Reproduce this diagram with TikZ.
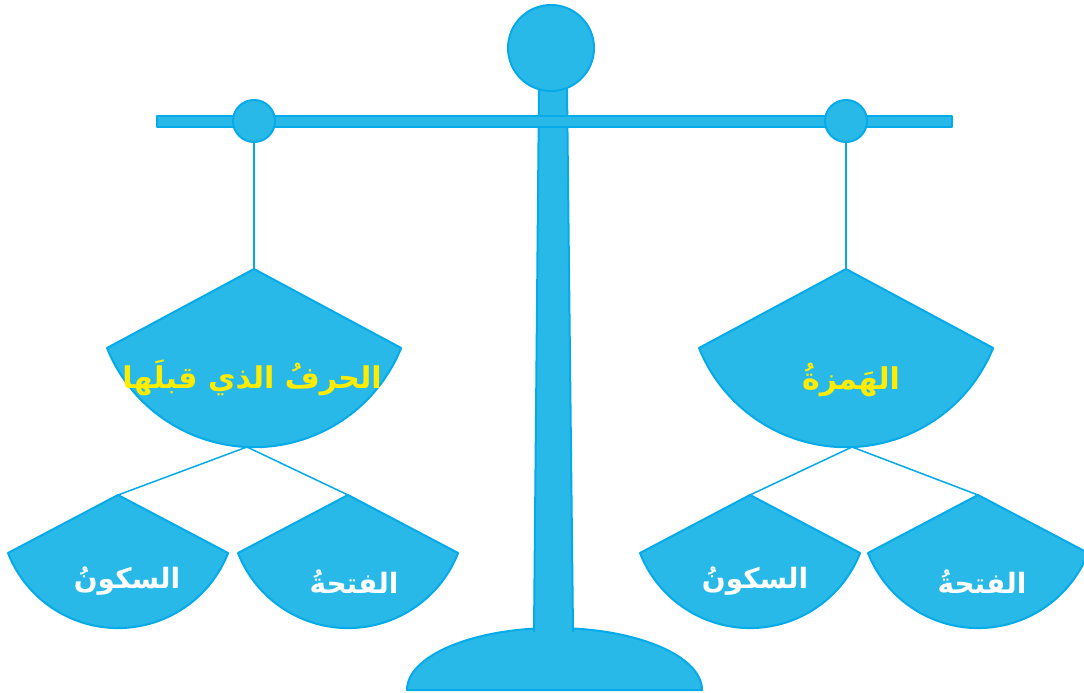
\documentclass[tikz,border=0pt]{standalone}
\usepackage{fontspec}
\newfontfamily\arabicfont[Script=Arabic]{DejaVu Sans}
\TeXXeTstate=1
\definecolor{panfill}{RGB}{41,185,233}
\definecolor{panline}{RGB}{5,170,232}
\definecolor{labelyellow}{RGB}{255,236,0}
\tikzset{
  part/.style={fill=panfill, draw=panline, line width=2pt, line join=round},
  cord/.style={draw=panline, line width=1.8pt},
  knob/.style={part, circle, inner sep=0pt},
  biglabel/.style={font=\arabicfont\bfseries\fontsize{30}{36}\selectfont, text=labelyellow, inner sep=0pt},
  smalllabel/.style={font=\arabicfont\bfseries\fontsize{28}{34}\selectfont, text=white, inner sep=0pt}
}
\begin{document}
\begin{tikzpicture}[x=1pt,y=-1pt]
\useasboundingbox (0,0) rectangle (1084,693);
% base
\path[part] (407,690) arc[start angle=180, end angle=360, x radius=147.5, y radius=62] -- cycle;
% stem (open at bottom)
\path[fill=panfill] (534,632) -- (539,88) -- (567,88) -- (573,632) -- cycle;
\draw[cord, line width=2pt] (534,632) -- (539,88) -- (567,88) -- (573,632);
% beam
\path[part] (157,116) rectangle (952,127);
% top knob
\node[knob, minimum size=86pt] (top) at (551,48) {};
% beam knobs
\node[knob, minimum size=42pt] (LK) at (254,121) {};
\node[knob, minimum size=42pt] (RK) at (846,121) {};
% pan apexes and bottoms
\coordinate (LA) at (254,269);
\coordinate (RA) at (846,269);
\coordinate (LB) at (247,447);
\coordinate (RB) at (852,447);
\coordinate (SA1) at (118,495);
\coordinate (SA2) at (348,495);
\coordinate (SA3) at (750,495);
\coordinate (SA4) at (978,495);
% hanging cords
\draw[cord] (LK) -- (LA);
\draw[cord] (RK) -- (RA);
% connectors to small pans
\draw[cord, line width=1.5pt] (LB) -- (SA1);
\draw[cord, line width=1.5pt] (LB) -- (SA2);
\draw[cord, line width=1.5pt] (RB) -- (SA3);
\draw[cord, line width=1.5pt] (RB) -- (SA4);
% big pans
\path[part] (LA) -- ++(-147,79) arc[start angle=158, end angle=22, radius=158.6] -- cycle;
\path[part] (RA) -- ++(-147,79) arc[start angle=158, end angle=22, radius=158.6] -- cycle;
% small pans
\foreach \p in {SA1,SA2,SA3,SA4}
  \path[part] (\p) -- ++(-110,58) arc[start angle=158.6, end angle=21.4, radius=118.2] -- cycle;
% labels
\node[biglabel] (t1) at (252,378) {\beginR الحرفُ الذي قبلَها\endR};
\node[biglabel] (t2) at (851,380) {\beginR الهَمزةُ\endR};
\node[smalllabel] (t3) at (127,581) {\beginR السكونُ\endR};
\node[smalllabel] (t4) at (354,582) {\beginR الفتحةُ\endR};
\node[smalllabel] (t5) at (755,581) {\beginR السكونُ\endR};
\node[smalllabel] (t6) at (982,582) {\beginR الفتحةُ\endR};
\end{tikzpicture}
\end{document}
